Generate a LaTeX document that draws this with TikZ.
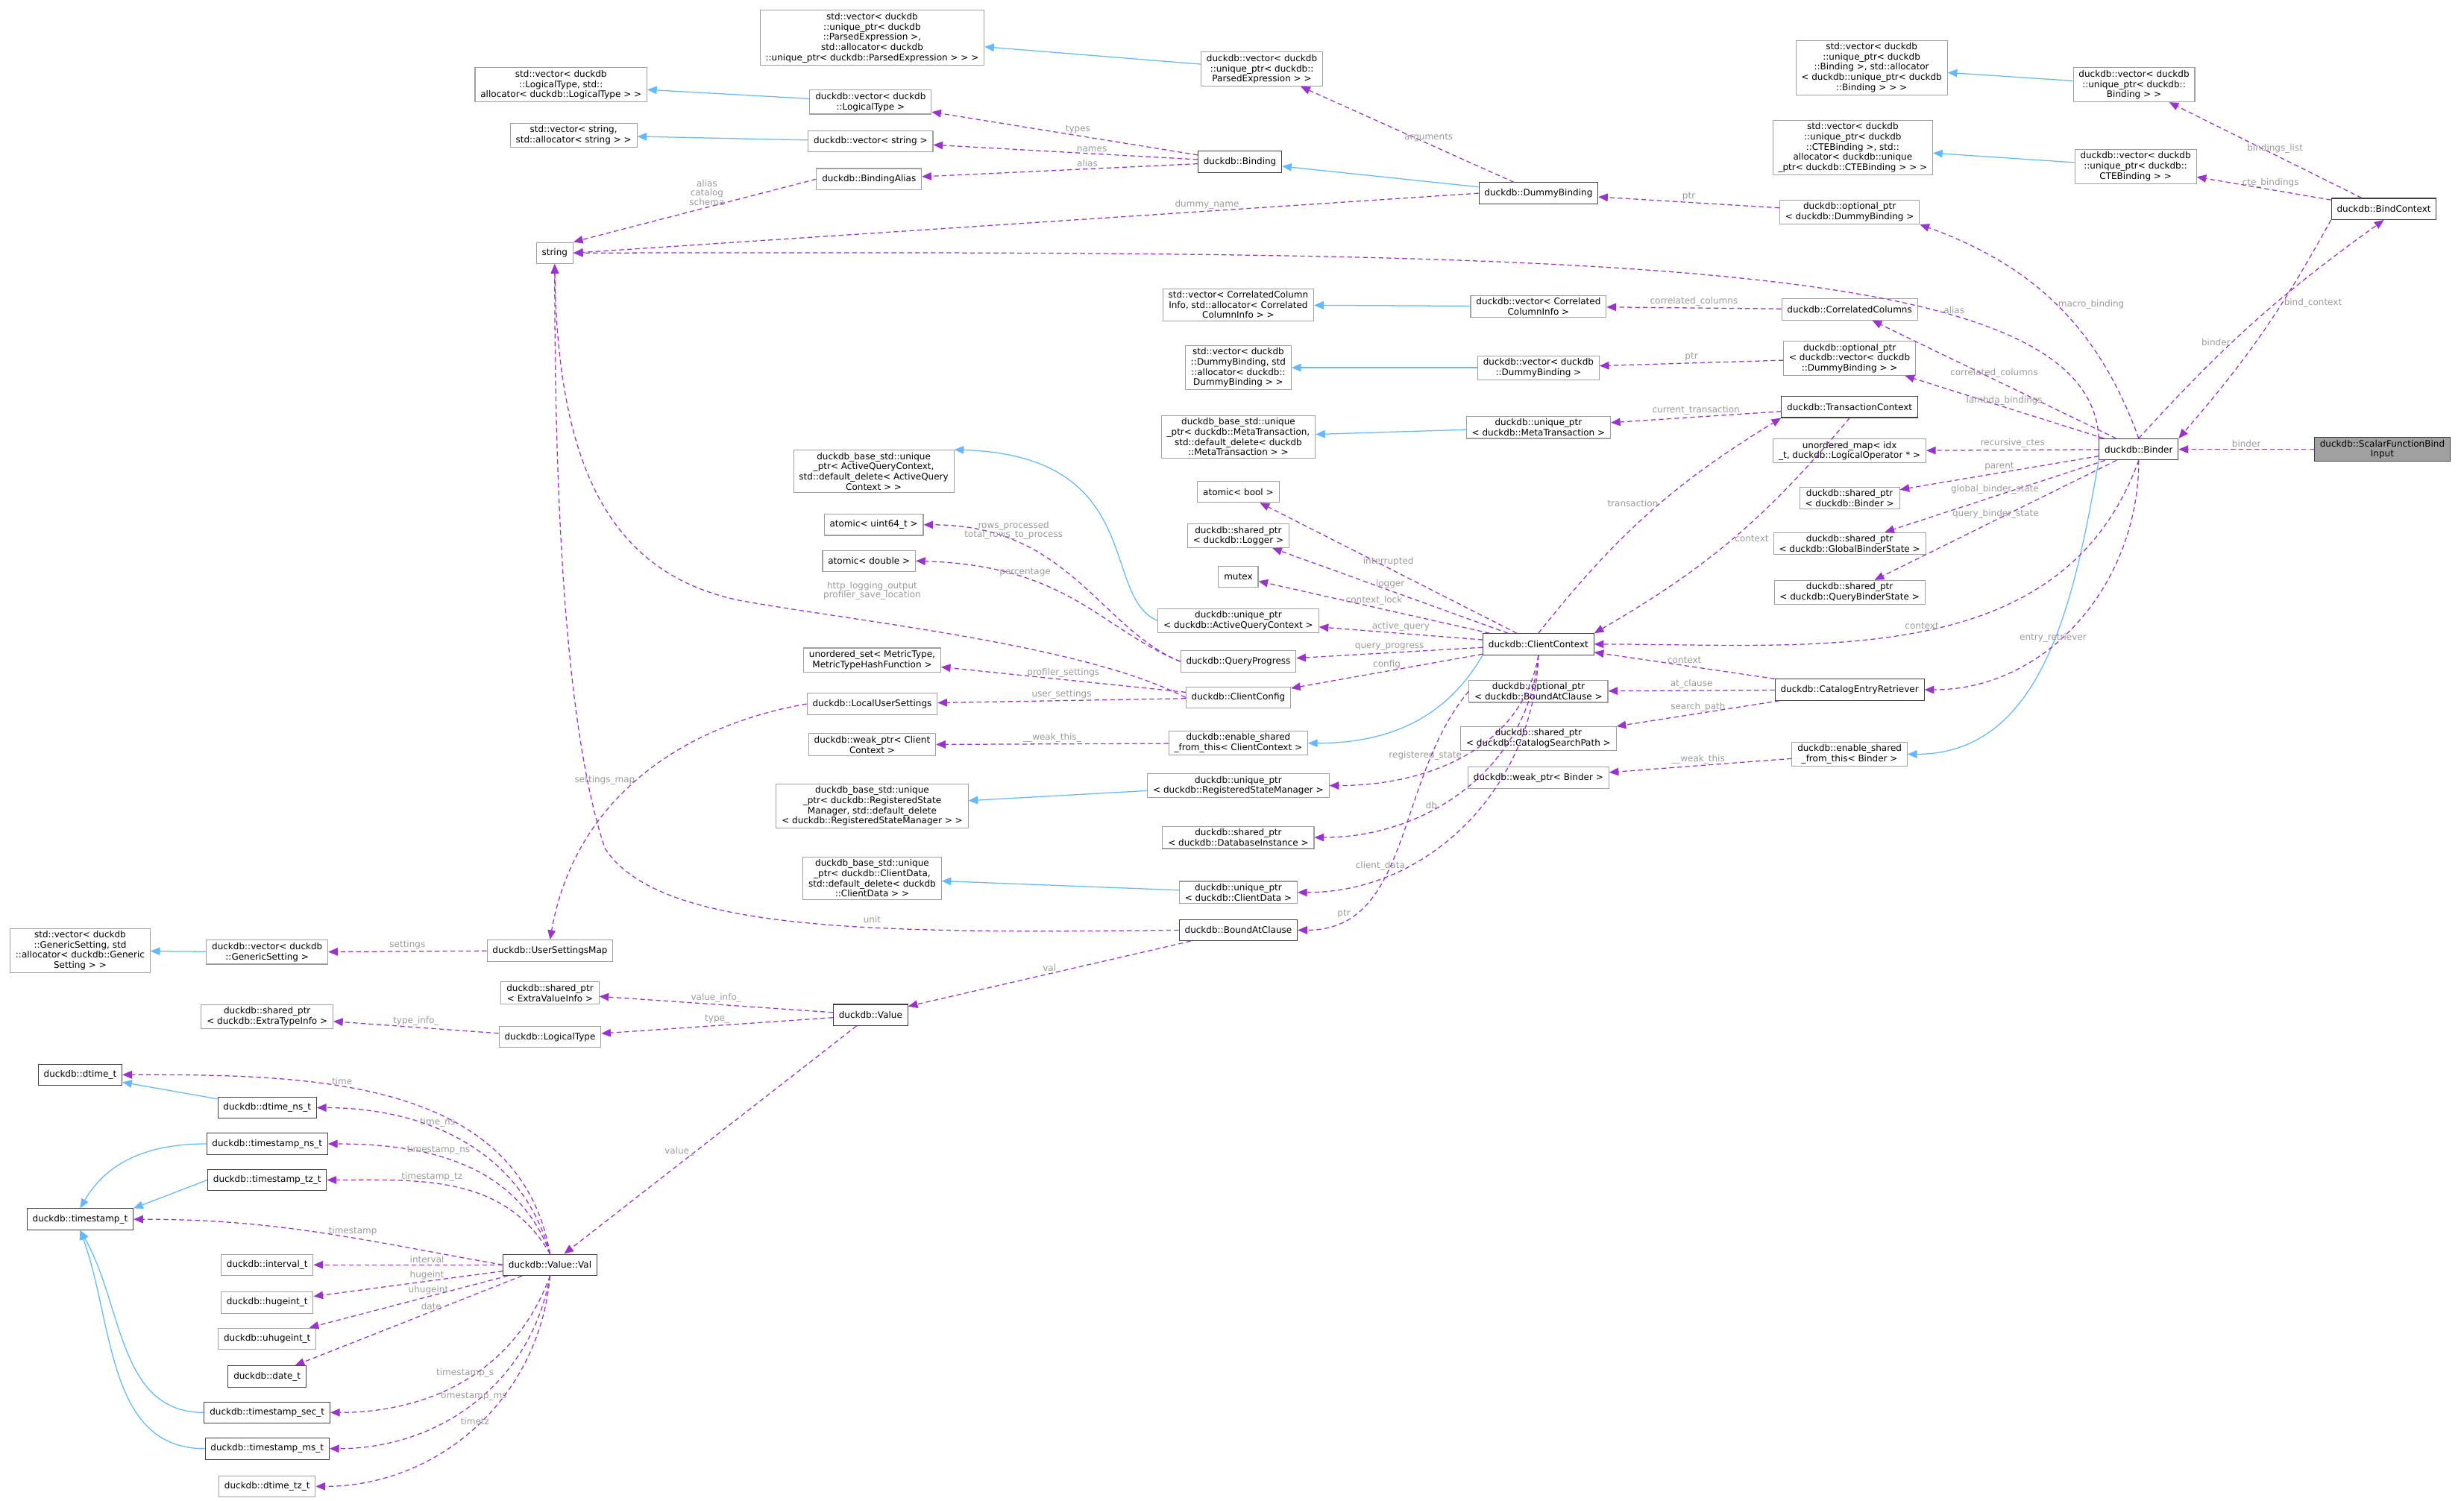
\documentclass[tikz,border=0pt]{standalone}
\usepackage{fontspec}
\setmainfont{DejaVu Sans}
\usetikzlibrary{arrows.meta}
\definecolor{inhblue}{HTML}{63B8FF}
\definecolor{usepurple}{HTML}{9A32CD}
\definecolor{lblgray}{HTML}{9A9A9A}
\definecolor{boxgray}{HTML}{A0A0A0}
\tikzset{
  box/.style={draw=boxgray, line width=0.5pt, inner xsep=3.5pt, inner ysep=1.6pt, align=center, font=\fontsize{5.7}{6.5}\selectfont, minimum height=13.5},
  dbox/.style={box, draw=black!75},
  inh/.style={draw=inhblue, line width=0.6pt, -{Triangle[length=6pt,width=5pt]}},
  use/.style={draw=usepurple, line width=0.6pt, dashed, dash pattern=on 3pt off 2pt, -{Triangle[length=6pt,width=5pt,fill=usepurple]}},
  lbl/.style={text=lblgray, font=\fontsize{5.7}{5.9}\selectfont, align=center, inner sep=1pt}
}
\begin{document}
\begin{tikzpicture}[x=1pt,y=-1pt]
\useasboundingbox (0,0) rectangle (1568,955);

% types at the left and top
\node[box] (vecParsedExpr) at (555,24) {std::vector< duckdb\\::unique\_ptr< duckdb\\::ParsedExpression >,\\ std::allocator< duckdb\\::unique\_ptr< duckdb::ParsedExpression > > >};
\node[box] (vecLogicalType) at (357,54) {std::vector< duckdb\\::LogicalType, std::\\allocator< duckdb::LogicalType > >};
\node[box] (vecString) at (365,86) {std::vector< string,\\ std::allocator< string > >};
\node[box] (string) at (353,161) {string};
\node[box] (dvLogicalType) at (554,65) {duckdb::vector< duckdb\\::LogicalType >};
\node[box] (dvString) at (554,90) {duckdb::vector< string >};
\node[box] (BindingAlias) at (553,114) {duckdb::BindingAlias};
\node[dbox] (Binding) at (789,103) {duckdb::Binding};
\node[box] (dvParsedExpr) at (803,44) {duckdb::vector< duckdb\\::unique\_ptr< duckdb::\\ParsedExpression > >};
\node[dbox] (DummyBinding) at (979,123) {duckdb::DummyBinding};
\node[box] (optDummyBinding) at (1177,135) {duckdb::optional\_ptr\\< duckdb::DummyBinding >};
\node[box] (vecBinding) at (1191,43) {std::vector< duckdb\\::unique\_ptr< duckdb\\::Binding >, std::allocator\\< duckdb::unique\_ptr< duckdb\\::Binding > > >};
\node[box] (dvBinding) at (1358,54) {duckdb::vector< duckdb\\::unique\_ptr< duckdb::\\Binding > >};
\node[box] (vecCTEBinding) at (1179,94) {std::vector< duckdb\\::unique\_ptr< duckdb\\::CTEBinding >, std::\\allocator< duckdb::unique\\\_ptr< duckdb::CTEBinding > > >};
\node[box] (dvCTEBinding) at (1359,106) {duckdb::vector< duckdb\\::unique\_ptr< duckdb::\\CTEBinding > >};
\node[dbox] (BindContext) at (1517,133) {duckdb::BindContext};
\node[dbox] (Binder) at (1361,286) {duckdb::Binder};
\node[box, fill=boxgray, draw=black!75] (ScalarFunctionBindInput) at (1516,286) {duckdb::ScalarFunctionBind\\Input};

% binder members
\node[box] (vecCorrCol) at (788,194) {std::vector< CorrelatedColumn\\Info, std::allocator< Correlated\\ColumnInfo > >};
\node[box] (dvCorrCol) at (979,195) {duckdb::vector< Correlated\\ColumnInfo >};
\node[box] (CorrelatedColumns) at (1177,197) {duckdb::CorrelatedColumns};
\node[box] (vecDummy) at (788,234) {std::vector< duckdb\\::DummyBinding, std\\::allocator< duckdb::\\DummyBinding > >};
\node[box] (dvDummy) at (979,234) {duckdb::vector< duckdb\\::DummyBinding >};
\node[box] (optVecDummy) at (1177,228) {duckdb::optional\_ptr\\< duckdb::vector< duckdb\\::DummyBinding > >};
\node[box] (metaTxn) at (788,278) {duckdb\_base\_std::unique\\\_ptr< duckdb::MetaTransaction,\\ std::default\_delete< duckdb\\::MetaTransaction > >};
\node[box] (uptrMetaTxn) at (979,272) {duckdb::unique\_ptr\\< duckdb::MetaTransaction >};
\node[dbox] (TransactionContext) at (1177,259) {duckdb::TransactionContext};
\node[box] (unorderedMap) at (1177,287) {unordered\_map< idx\\\_t, duckdb::LogicalOperator * >};
\node[box] (sptrBinder) at (1177,317) {duckdb::shared\_ptr\\< duckdb::Binder >};
\node[box] (sptrGlobal) at (1177,346) {duckdb::shared\_ptr\\< duckdb::GlobalBinderState >};
\node[box] (sptrQuery) at (1177,377) {duckdb::shared\_ptr\\< duckdb::QueryBinderState >};

% client context members
\node[box] (atomicBool) at (788,313) {atomic< bool >};
\node[box] (sptrLogger) at (788,341) {duckdb::shared\_ptr\\< duckdb::Logger >};
\node[box] (mutex) at (788,367) {mutex};
\node[box] (uptrActiveQuery) at (788,395) {duckdb::unique\_ptr\\< duckdb::ActiveQueryContext >};
\node[box] (QueryProgress) at (788,421) {duckdb::QueryProgress};
\node[dbox] (ClientContext) at (979,410) {duckdb::ClientContext};
\node[box] (ClientConfig) at (788,444) {duckdb::ClientConfig};
\node[box] (enableSharedCC) at (788,473) {duckdb::enable\_shared\\\_from\_this< ClientContext >};
\node[box] (uptrRegState) at (788,500) {duckdb::unique\_ptr\\< duckdb::RegisteredStateManager >};
\node[box] (sptrDB) at (788,533) {duckdb::shared\_ptr\\< duckdb::DatabaseInstance >};
\node[box] (uptrClientData) at (788,568) {duckdb::unique\_ptr\\< duckdb::ClientData >};
\node[dbox] (BoundAtClause) at (788,592) {duckdb::BoundAtClause};
\node[box] (optBoundAt) at (979,440) {duckdb::optional\_ptr\\< duckdb::BoundAtClause >};
\node[box] (sptrCatSearch) at (979,470) {duckdb::shared\_ptr\\< duckdb::CatalogSearchPath >};
\node[box] (weakBinder) at (979,495) {duckdb::weak\_ptr< Binder >};
\node[dbox] (CatalogEntryRetriever) at (1177,439) {duckdb::CatalogEntryRetriever};
\node[box] (enableSharedBinder) at (1177,480) {duckdb::enable\_shared\\\_from\_this< Binder >};
\node[box] (aqBase) at (556,300) {duckdb\_base\_std::unique\\\_ptr< ActiveQueryContext,\\ std::default\_delete< ActiveQuery\\Context > >};
\node[box] (atomicU64) at (556,334) {atomic< uint64\_t >};
\node[box] (atomicDouble) at (553,357) {atomic< double >};
\node[box] (unorderedSet) at (555,420) {unordered\_set< MetricType,\\ MetricTypeHashFunction >};
\node[box] (LocalUserSettings) at (555,448) {duckdb::LocalUserSettings};
\node[box] (weakClient) at (555,474) {duckdb::weak\_ptr< Client\\Context >};
\node[box] (regStateBase) at (555,513) {duckdb\_base\_std::unique\\\_ptr< duckdb::RegisteredState\\Manager, std::default\_delete\\< duckdb::RegisteredStateManager > >};
\node[box] (clientDataBase) at (555,559) {duckdb\_base\_std::unique\\\_ptr< duckdb::ClientData,\\ std::default\_delete< duckdb\\::ClientData > >};

% value part
\node[box] (UserSettingsMap) at (350,605) {duckdb::UserSettingsMap};
\node[box] (dvGenericSetting) at (170,606) {duckdb::vector< duckdb\\::GenericSetting >};
\node[box] (vecGenericSetting) at (51,605) {std::vector< duckdb\\::GenericSetting, std\\::allocator< duckdb::Generic\\Setting > >};
\node[box] (sptrExtraValue) at (350,632) {duckdb::shared\_ptr\\< ExtraValueInfo >};
\node[box] (LogicalType) at (350,660) {duckdb::LogicalType};
\node[box] (sptrExtraType) at (170,647) {duckdb::shared\_ptr\\< duckdb::ExtraTypeInfo >};
\node[dbox] (Value) at (554,646) {duckdb::Value};
\node[dbox] (Val) at (350,805) {duckdb::Value::Val};
\node[dbox] (dtime) at (51,684) {duckdb::dtime\_t};
\node[dbox] (dtimeNs) at (170,705) {duckdb::dtime\_ns\_t};
\node[dbox] (tsNs) at (170,728) {duckdb::timestamp\_ns\_t};
\node[dbox] (tsTz) at (170,751) {duckdb::timestamp\_tz\_t};
\node[dbox] (ts) at (51,776) {duckdb::timestamp\_t};
\node[box] (interval) at (170,805) {duckdb::interval\_t};
\node[box] (hugeint) at (170,829) {duckdb::hugeint\_t};
\node[box] (uhugeint) at (170,852) {duckdb::uhugeint\_t};
\node[dbox] (date) at (170,876) {duckdb::date\_t};
\node[dbox] (tsSec) at (170,899) {duckdb::timestamp\_sec\_t};
\node[dbox] (tsMs) at (170,922) {duckdb::timestamp\_ms\_t};
\node[box] (dtimeTz) at (170,946) {duckdb::dtime\_tz\_t};

% inheritance
\draw[inh] (dvParsedExpr) -- (vecParsedExpr);
\draw[inh] (dvLogicalType) -- (vecLogicalType);
\draw[inh] (dvString) -- (vecString);
\draw[inh] (DummyBinding) -- (Binding);
\draw[inh] (dvBinding) -- (vecBinding);
\draw[inh] (dvCTEBinding) -- (vecCTEBinding);
\draw[inh] (dvCorrCol) -- (vecCorrCol);
\draw[inh] (dvDummy) -- (vecDummy);
\draw[inh] (uptrMetaTxn) -- (metaTxn);
\draw[inh] (uptrActiveQuery.west) .. controls (700,380) and (730,290) .. (aqBase.north east);
\draw[inh] (ClientContext.south west) to[out=240,in=0] (enableSharedCC.east);
\draw[inh] (Binder.south west) to[out=260,in=0] (enableSharedBinder.east);
\draw[inh] (uptrRegState) -- (regStateBase);
\draw[inh] (uptrClientData) -- (clientDataBase);
\draw[inh] (dvGenericSetting) -- (vecGenericSetting);
\draw[inh] (dtimeNs) -- (dtime);
\draw[inh] (tsNs.west) to[out=180,in=60] (ts.north);
\draw[inh] (tsTz.west) -- (ts.north east);
\draw[inh] (tsSec.west) to[out=180,in=-60] (ts.south);
\draw[inh] (tsMs.west) to[out=180,in=-70] (ts.south);

% usage
\draw[use] (Binding) -- node[lbl,pos=0.45,above] {types} (dvLogicalType);
\draw[use] (Binding) -- node[lbl,pos=0.4,above] {names} (dvString);
\draw[use] (Binding) -- node[lbl,pos=0.4,above] {alias} (BindingAlias);
\draw[use] (BindingAlias.west) -- node[lbl,pos=0.45,above] {alias\\catalog\\schema} (string.north east);
\draw[use] (DummyBinding) -- node[lbl,pos=0.4,above] {arguments} (dvParsedExpr);
\draw[use] (DummyBinding.west) -- node[lbl,pos=0.3,above] {dummy\_name} (string.east);
\draw[use] (optDummyBinding) -- node[lbl,pos=0.5,above] {ptr} (DummyBinding);
\draw[use] (BindContext) -- node[lbl,pos=0.45,above] {bindings\_list} (dvBinding);
\draw[use] (BindContext) -- node[lbl,pos=0.45,above] {cte\_bindings} (dvCTEBinding);
\draw[use] (Binder.north) to[bend left=6] node[lbl,pos=0.4,left] {binder} (BindContext.south);
\draw[use] (BindContext.south west) to[bend left=6] node[lbl,pos=0.35,right] {bind\_context} (Binder.north east);
\draw[use] (Binder.north) to[out=110,in=-20] node[lbl,pos=0.5,right] {macro\_binding} (optDummyBinding.south east);
\draw[use] (Binder.north west) .. controls (1330,160) and (1000,160) .. node[lbl,pos=0.3,above] {alias} (string.east);
\draw[use] (Binder) -- node[lbl,pos=0.5,above] {correlated\_columns} (CorrelatedColumns);
\draw[use] (CorrelatedColumns) -- node[lbl,pos=0.5,above] {correlated\_columns} (dvCorrCol);
\draw[use] (optVecDummy) -- node[lbl,pos=0.5,above] {ptr} (dvDummy);
\draw[use] (Binder) -- node[lbl,pos=0.5,above] {lambda\_bindings} (optVecDummy);
\draw[use] (TransactionContext) -- node[lbl,pos=0.5,above] {current\_transaction} (uptrMetaTxn);
\draw[use] (ClientContext.north) to[bend left=10] node[lbl,pos=0.55,left] {transaction} (TransactionContext.south west);
\draw[use] (TransactionContext.south) to[bend left=10] node[lbl,pos=0.5,right] {context} (ClientContext.north east);
\draw[use] (Binder) -- node[lbl,pos=0.5,above] {recursive\_ctes} (unorderedMap);
\draw[use] (Binder) -- node[lbl,pos=0.5,above] {parent} (sptrBinder);
\draw[use] (Binder) -- node[lbl,pos=0.5,above] {global\_binder\_state} (sptrGlobal);
\draw[use] (Binder) -- node[lbl,pos=0.5,above] {query\_binder\_state} (sptrQuery);
\draw[use] (Binder.south) to[out=250,in=0] node[lbl,pos=0.5,above] {context} (ClientContext.east);
\draw[use] (Binder.south) to[out=270,in=0] node[lbl,pos=0.6,above] {entry\_retriever} (CatalogEntryRetriever.east);
\draw[use] (ScalarFunctionBindInput) -- node[lbl,pos=0.5,above] {binder} (Binder);
\draw[use] (ClientContext) -- node[lbl,pos=0.5,above] {interrupted} (atomicBool);
\draw[use] (ClientContext) -- node[lbl,pos=0.5,above] {logger} (sptrLogger);
\draw[use] (ClientContext) -- node[lbl,pos=0.5,above] {context\_lock} (mutex);
\draw[use] (ClientContext) -- node[lbl,pos=0.5,above] {active\_query} (uptrActiveQuery);
\draw[use] (ClientContext) -- node[lbl,pos=0.5,above] {query\_progress} (QueryProgress);
\draw[use] (ClientContext) -- node[lbl,pos=0.5,above] {config} (ClientConfig);
\draw[use] (ClientContext.south) to[out=260,in=0] node[lbl,pos=0.5,left] {registered\_state} (uptrRegState.east);
\draw[use] (ClientContext.south) to[out=265,in=0] node[lbl,pos=0.6,left] {db} (sptrDB.east);
\draw[use] (ClientContext.south) to[out=268,in=0] node[lbl,pos=0.7,left] {client\_data} (uptrClientData.east);
\draw[use] (optBoundAt.west) to[out=230,in=0] node[lbl,pos=0.8,left] {ptr} (BoundAtClause.east);
\draw[use] (QueryProgress.west) .. controls (700,400) and (680,334) .. node[lbl,pos=0.75,above] {rows\_processed\\total\_rows\_to\_process} (atomicU64.east);
\draw[use] (QueryProgress.west) .. controls (700,400) and (680,360) .. node[lbl,pos=0.7,above] {percentage} (atomicDouble.east);
\node[lbl] (httpLbl) at (555,376) {http\_logging\_output\\profiler\_save\_location};
\draw[use] (ClientConfig.west) .. controls (690,410) and (540,395) .. (470,382) .. controls (390,365) and (355,300) .. (string.south);
\draw[use] (ClientConfig) -- node[lbl,pos=0.5,above] {profiler\_settings} (unorderedSet);
\draw[use] (ClientConfig) -- node[lbl,pos=0.5,above] {user\_settings} (LocalUserSettings);
\draw[use] (enableSharedCC) -- node[lbl,pos=0.5,above] {\_\_weak\_this\_} (weakClient);
\draw[use] (LocalUserSettings.west) to[out=190,in=80] node[lbl,pos=0.5,left] {settings\_map} (UserSettingsMap.north);
\draw[use] (UserSettingsMap) -- node[lbl,pos=0.5,above] {settings} (dvGenericSetting);
\node[lbl] (unitLbl) at (555,585) {unit};
\draw[use] (BoundAtClause.west) .. controls (560,594) and (420,594) .. (385,540) .. controls (358,460) and (353,300) .. (string.south);
\draw[use] (BoundAtClause) -- node[lbl,pos=0.5,above] {val} (Value);
\draw[use] (CatalogEntryRetriever) -- node[lbl,pos=0.5,above] {context} (ClientContext);
\draw[use] (CatalogEntryRetriever) -- node[lbl,pos=0.5,above] {at\_clause} (optBoundAt);
\draw[use] (CatalogEntryRetriever) -- node[lbl,pos=0.5,above] {search\_path} (sptrCatSearch);
\draw[use] (enableSharedBinder) -- node[lbl,pos=0.5,above] {\_\_weak\_this\_} (weakBinder);
\draw[use] (Value) -- node[lbl,pos=0.5,above] {value\_info\_} (sptrExtraValue);
\draw[use] (Value) -- node[lbl,pos=0.5,above] {type\_} (LogicalType);
\draw[use] (LogicalType) -- node[lbl,pos=0.5,above] {type\_info\_} (sptrExtraType);
\draw[use] (Value) -- node[lbl,pos=0.55,left] {value\_} (Val);
\draw[use] (Val.north) to[out=100,in=0] node[lbl,pos=0.6,above] {time} (dtime.east);
\draw[use] (Val.north) to[out=105,in=0] node[lbl,pos=0.6,above] {time\_ns} (dtimeNs.east);
\draw[use] (Val.north) to[out=110,in=0] node[lbl,pos=0.6,above] {timestamp\_ns} (tsNs.east);
\draw[use] (Val.north) to[out=120,in=0] node[lbl,pos=0.6,above] {timestamp\_tz} (tsTz.east);
\draw[use] (Val.west) to[out=170,in=0] node[lbl,pos=0.4,above] {timestamp} (ts.east);
\draw[use] (Val) -- node[lbl,pos=0.4,above] {interval} (interval);
\draw[use] (Val) -- node[lbl,pos=0.4,above] {hugeint} (hugeint);
\draw[use] (Val) -- node[lbl,pos=0.4,above] {uhugeint} (uhugeint);
\draw[use] (Val) -- node[lbl,pos=0.4,above] {date} (date);
\draw[use] (Val.south) to[out=250,in=0] node[lbl,pos=0.5,above] {timestamp\_s} (tsSec.east);
\draw[use] (Val.south) to[out=260,in=0] node[lbl,pos=0.5,above] {timestamp\_ms} (tsMs.east);
\draw[use] (Val.south) to[out=265,in=0] node[lbl,pos=0.5,above] {timetz} (dtimeTz.east);
\end{tikzpicture}
\end{document}
